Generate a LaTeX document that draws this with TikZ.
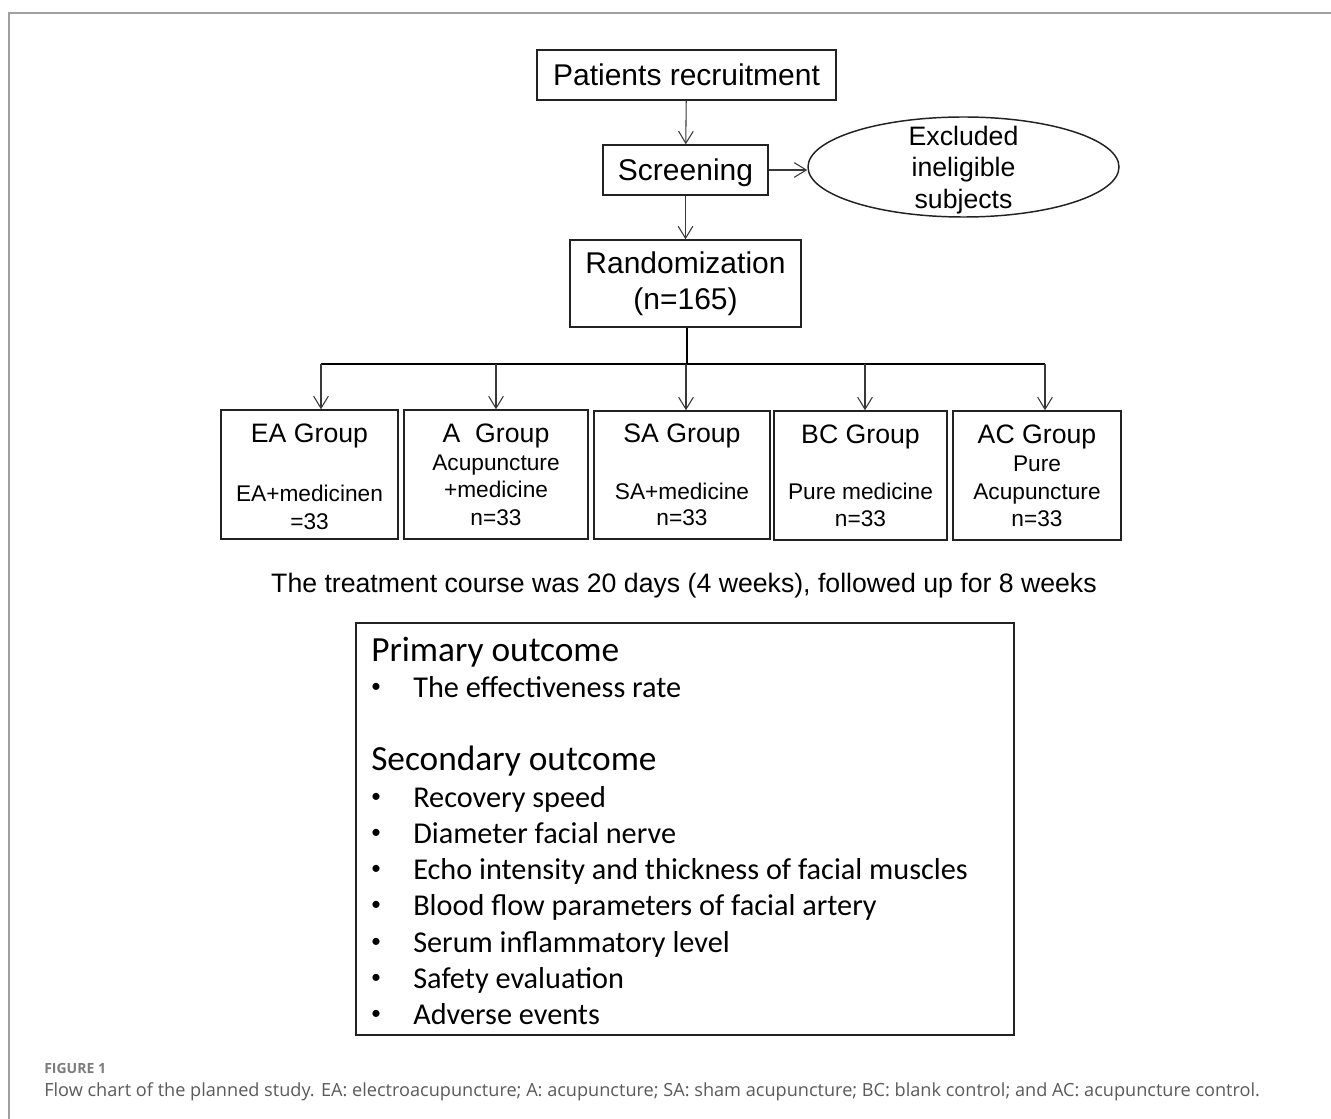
\documentclass[tikz,border=0pt]{standalone}
\usepackage{fontspec}
\setmainfont{Liberation Sans}
\newfontfamily\calib{Carlito}
\newfontfamily\capfont{Open Sans}
\usetikzlibrary{arrows.meta,shapes.geometric}
\newlength\pxl \setlength\pxl{0.75pt}
\definecolor{framegray}{HTML}{A0A0A0}
\definecolor{boxline}{HTML}{222222}
\definecolor{capgray}{HTML}{5A5A5A}
\tikzset{
  box/.style={draw=boxline, line width=1.1pt, inner sep=0pt, fill=white},
  conn/.style={draw=boxline!90, line width=0.8pt, -{Straight Barb[length=9pt,width=11pt,line width=0.8pt]}},
  bus/.style={draw=black, line width=1.8pt},
  tbig/.style={font=\fontsize{22.5}{27}\selectfont, align=center},
  thead/.style={font=\fontsize{20}{24}\selectfont, anchor=base, inner sep=0pt},
  tbody/.style={font=\fontsize{17}{20}\selectfont, anchor=base, inner sep=0pt},
  ohead/.style={font=\calib\fontsize{26.5}{30}\selectfont, anchor=base west, inner sep=0pt},
  oitem/.style={font=\calib\fontsize{22.7}{26}\selectfont, anchor=base west, inner sep=0pt},
  obul/.style={font=\calib\fontsize{15}{18}\selectfont, anchor=base, inner sep=0pt, yshift=3.5pt},
}
\begin{document}
\begin{tikzpicture}[x=0.75pt,y=-0.75pt]
\useasboundingbox (0,0) rectangle (1331,1119);
% frame
\draw[framegray, line width=1.4pt] (9,1119) -- (9,13) -- (1331,13);

% top boxes
\node[box, tbig, minimum width=299\pxl, minimum height=50\pxl] (rec) at (686.5,75) {Patients recruitment};
\node[box, tbig, minimum width=165\pxl, minimum height=50\pxl, text depth=0pt] (scr) at (685.5,170) {Screening};
\node[box, ellipse, minimum width=311\pxl, minimum height=100\pxl] (exc) at (963.5,167) {};
\node[font=\fontsize{20}{23.6}\selectfont, align=center, inner sep=0pt] (exct) at (963.5,170) {Excluded\\ineligible\\subjects};
\node[box, font=\fontsize{22.5}{27}\selectfont, align=center, minimum width=231\pxl, minimum height=87\pxl] (rand) at (685.5,283.5) {Randomization\\(n=165)};

\draw[conn] (rec) -- (scr);
\draw[conn] (scr) -- (scr.south |- rand.north);
\draw[conn] (scr.east) -- (exc.west |- scr.east);

% groups
\node[box, minimum width=177\pxl, minimum height=129\pxl] (ea) at (309.5,474.5) {};
\node[box, minimum width=184\pxl, minimum height=129\pxl] (a) at (496,474.5) {};
\node[box, minimum width=176\pxl, minimum height=128\pxl] (sa) at (682,475) {};
\node[box, minimum width=173\pxl, minimum height=129\pxl] (bc) at (860.5,475.5) {};
\node[box, minimum width=168\pxl, minimum height=129\pxl] (ac) at (1037,475.5) {};

% bus
\coordinate (j) at (687,364);
\coordinate (b1) at (321,364);
\coordinate (b2) at (496,364);
\coordinate (b3) at (686,364);
\coordinate (b4) at (865,364);
\coordinate (b5) at (1045,364);
\draw[line width=1.1pt] (rand.south -| j) -- (j);
\draw[bus] (b1) -- (b5);
\draw[conn] (b1) -- (b1 |- ea.north);
\draw[conn] (b2) -- (b2 |- a.north);
\draw[conn] (b3) -- (b3 |- sa.north);
\draw[conn] (b4) -- (b4 |- bc.north);
\draw[conn] (b5) -- (b5 |- ac.north);

% group texts
\node[thead] (ea1) at (309.5,443) {EA Group};
\node[tbody] (ea2) at (309.5,502) {EA+medicinen};
\node[tbody] (ea3) at (309.5,529) {=33};

\node[thead] (a1) at (496,443) {A\ \ Group};
\node[tbody] (a2) at (496,471) {Acupuncture};
\node[tbody] (a3) at (496,498) {+medicine};
\node[tbody] (a4) at (496,525) {n=33};

\node[thead] (sa1) at (682,443) {SA Group};
\node[tbody] (sa2) at (682,499) {SA+medicine};
\node[tbody] (sa3) at (682,525) {n=33};

\node[thead] (bc1) at (860.5,444) {BC Group};
\node[tbody] (bc2) at (860.5,499) {Pure medicine};
\node[tbody] (bc3) at (860.5,526) {n=33};

\node[thead] (ac1) at (1037,444) {AC Group};
\node[tbody] (ac2) at (1037,472) {Pure};
\node[tbody] (ac3) at (1037,499) {Acupuncture};
\node[tbody] (ac4) at (1037,526) {n=33};

% treatment line
\node[thead] (course) at (684,592) {The treatment course was 20 days (4 weeks), followed up for 8 weeks};

% outcome box
\node[box, minimum width=658\pxl, minimum height=412\pxl] (out) at (685,829) {};
\node[ohead] (po) at (371,661) {Primary outcome};
\node[obul] (pb1) at (376,697) {•};
\node[oitem] (p1) at (413,697) {The effectiveness rate};
\node[ohead] (so) at (371,770) {Secondary outcome};
\node[obul] (sb1) at (376,807) {•};
\node[oitem] (s1) at (413,807) {Recovery speed};
\node[obul] (sb2) at (376,843) {•};
\node[oitem] (s2) at (413,843) {Diameter facial nerve};
\node[obul] (sb3) at (376,879) {•};
\node[oitem] (s3) at (413,879) {Echo intensity and thickness of facial muscles};
\node[obul] (sb4) at (376,915) {•};
\node[oitem] (s4) at (413,915) {Blood flow parameters of facial artery};
\node[obul] (sb5) at (376,952) {•};
\node[oitem] (s5) at (413,952) {Serum inflammatory level};
\node[obul] (sb6) at (376,988) {•};
\node[oitem] (s6) at (413,988) {Safety evaluation};
\node[obul] (sb7) at (376,1024) {•};
\node[oitem] (s7) at (413,1024) {Adverse events};

% caption
\node[anchor=base west, inner sep=0pt, text=capgray!80, font=\capfont\fontsize{10.5}{12}\selectfont\bfseries] (fig) at (44,1073) {FIGURE 1};
\node[anchor=base west, inner sep=0pt, text=capgray, font=\capfont\fontsize{13.6}{16}\selectfont] (cap) at (44,1096) {Flow chart of the planned study. EA: electroacupuncture; A: acupuncture; SA: sham acupuncture; BC: blank control; and AC: acupuncture control.};
\end{tikzpicture}
\end{document}
